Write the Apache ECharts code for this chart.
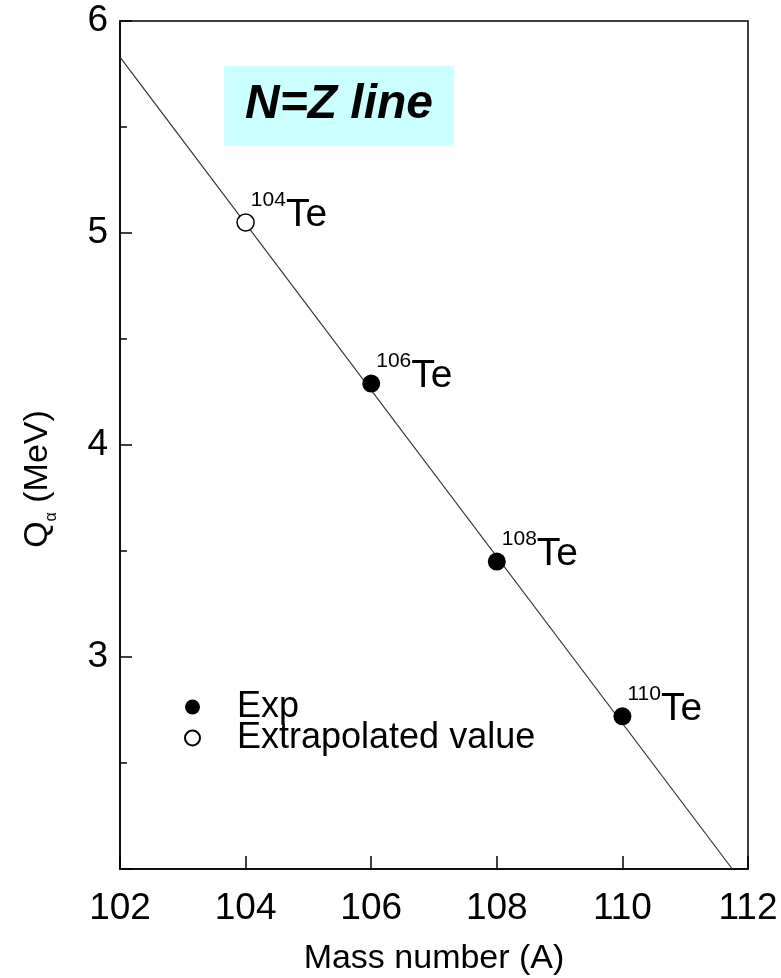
<!DOCTYPE html>
<html>
<head>
<meta charset="utf-8">
<script src="https://cdn.jsdelivr.net/npm/echarts@6/dist/echarts.min.js"></script>
<style>
html,body{margin:0;padding:0;background:#fff;}
#chart{width:781px;height:978px;}
</style>
</head>
<body>
<div id="chart"></div>
<script>
// Data
const expMass = [106, 108, 110];
const expQ = [4.29, 3.45, 2.72];
const extrapMass = [104];
const extrapQ = [5.05];
const fitMass = [102, 111.75];
const fitQ = [5.83, 2.0];
const element = 'Te';
const xTickLabels = [102, 104, 106, 108, 110, 112];
const yTickLabels = [3, 4, 5, 6];

const FONT = "'Liberation Sans', Arial, Helvetica, sans-serif";

const chart = echarts.init(document.getElementById('chart'));

const pointLabel = {
  show: true,
  position: 'right',
  distance: -4,
  offset: [0, -7],
  formatter: p => '{s|' + p.value[0] + '}{t|' + element + '}',
  rich: {
    s: { fontSize: 21, lineHeight: 21, verticalAlign: 'top', color: '#000', fontFamily: FONT },
    t: { fontSize: 39, lineHeight: 52, color: '#000', fontFamily: FONT }
  }
};

const option = {
  backgroundColor: '#fff',
  animation: false,
  title: {
    text: 'N=Z line',
    left: 224,
    top: 66,
    backgroundColor: '#ccffff',
    padding: [14, 21, 15, 21],
    textStyle: {
      fontFamily: FONT,
      fontSize: 48,
      fontWeight: 'bold',
      fontStyle: 'italic',
      color: '#000',
      lineHeight: 50
    }
  },
  legend: {
    orient: 'vertical',
    left: 179,
    top: 684,
    itemWidth: 15,
    itemHeight: 15,
    itemGap: -5,
    data: ['Exp', 'Extrapolated value'],
    textStyle: {
      fontFamily: FONT,
      fontSize: 36,
      color: '#000',
      padding: [0, 0, 0, 32]
    }
  },
  grid: {
    left: 120,
    top: 21,
    right: 33,
    bottom: 109,
    outerBoundsMode: 'none',
    containLabel: false,
    show: true,
    borderColor: '#000',
    borderWidth: 1.5,
    backgroundColor: 'transparent'
  },
  xAxis: {
    type: 'value',
    min: 102,
    max: 112,
    interval: 2,
    name: 'Mass number (A)',
    nameLocation: 'middle',
    nameGap: 73,
    nameTextStyle: { fontFamily: FONT, fontSize: 34, color: '#000' },
    axisLine: { show: true, lineStyle: { color: '#000', width: 1.5 } },
    axisTick: { show: true, inside: true, length: 13, lineStyle: { color: '#000', width: 1.5 } },
    axisLabel: {
      margin: 21,
      fontFamily: FONT,
      fontSize: 37,
      color: '#000',
      formatter: v => (xTickLabels.indexOf(v) >= 0 ? String(v) : '')
    },
    splitLine: { show: false }
  },
  yAxis: {
    type: 'value',
    min: 2,
    max: 6,
    interval: 1,
    name: '{q|Q}{a|α}{m| (MeV)}',
    nameLocation: 'middle',
    nameGap: 65,
    nameRotate: 90,
    nameTextStyle: {
      padding: [0, 68, 0, 0],
      rich: {
        q: { fontFamily: FONT, fontSize: 34, lineHeight: 34, color: '#000' },
        a: { fontFamily: FONT, fontSize: 16, lineHeight: 16, padding: [28, 0, 0, 0], color: '#000' },
        m: { fontFamily: FONT, fontSize: 34, lineHeight: 34, color: '#000' }
      }
    },
    axisLine: { show: true, lineStyle: { color: '#000', width: 1.5 } },
    axisTick: { show: true, inside: true, length: 12, lineStyle: { color: '#000', width: 1.5 } },
    minorTick: { show: true, splitNumber: 2, length: 7, lineStyle: { color: '#000', width: 1.5 } },
    axisLabel: {
      margin: 12,
      fontFamily: FONT,
      fontSize: 37,
      color: '#000',
      formatter: v => (yTickLabels.indexOf(v) >= 0 ? String(v) : '')
    },
    splitLine: { show: false }
  },
  series: [
    {
      name: 'fit',
      type: 'line',
      data: fitMass.map((a, i) => [a, fitQ[i]]),
      symbol: 'none',
      lineStyle: { color: '#333', width: 1.2 },
      silent: true,
      z: 1
    },
    {
      name: 'Exp',
      type: 'scatter',
      data: expMass.map((a, i) => [a, expQ[i]]),
      symbol: 'circle',
      symbolSize: 18,
      itemStyle: { color: '#000', opacity: 1 },
      label: pointLabel,
      z: 3
    },
    {
      name: 'Extrapolated value',
      type: 'scatter',
      data: extrapMass.map((a, i) => [a, extrapQ[i]]),
      symbol: 'circle',
      symbolSize: 17,
      itemStyle: { color: '#fff', borderColor: '#000', borderWidth: 1.5, opacity: 1 },
      label: pointLabel,
      z: 3
    }
  ]
};

chart.setOption(option);
</script>
</body>
</html>
